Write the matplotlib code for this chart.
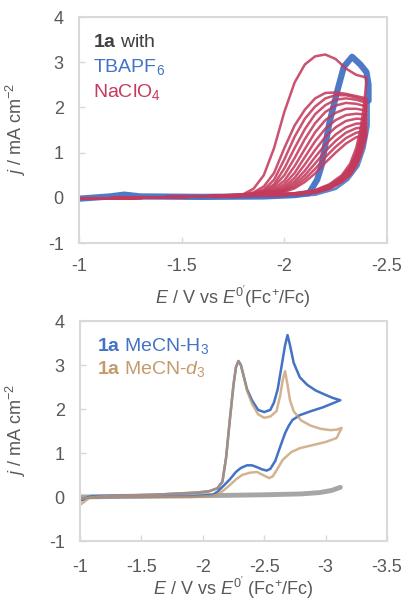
import matplotlib
matplotlib.use('Agg')
import matplotlib.pyplot as plt

plt.rcParams['font.family'] = ['Liberation Sans', 'DejaVu Sans']
plt.rcParams['mathtext.fontset'] = 'custom'
plt.rcParams['mathtext.rm'] = 'Liberation Sans'
plt.rcParams['mathtext.it'] = 'Liberation Sans:italic'
plt.rcParams['mathtext.bf'] = 'Liberation Sans:bold'

# ---- top panel: 1a with TBAPF6 / NaClO4 (multi-cycle CV) ----
red_fwd_E = [-1.0, -1.3, -1.6, -1.8, -1.85, -1.9, -1.95, -2.0, -2.05, -2.1,
             -2.15, -2.2, -2.25, -2.3, -2.35, -2.4]
red_fwd_j = [
    [-0.02, 0.0, 0.03, 0.08, 0.2, 0.5, 1.1, 1.9, 2.55, 2.95, 3.13, 3.17, 3.07, 2.86, 2.72, 2.66],
    [-0.02, 0.0, 0.03, 0.07, 0.12, 0.25, 0.55, 1.1, 1.6, 1.95, 2.2, 2.32, 2.33, 2.3, 2.25, 2.2],
    [-0.02, 0.0, 0.03, 0.07, 0.1, 0.18, 0.4, 0.85, 1.35, 1.75, 2.02, 2.2, 2.27, 2.27, 2.22, 2.15],
    [-0.02, 0.0, 0.03, 0.06, 0.09, 0.15, 0.3, 0.65, 1.1, 1.52, 1.85, 2.05, 2.17, 2.2, 2.17, 2.1],
    [-0.02, 0.0, 0.03, 0.06, 0.08, 0.12, 0.25, 0.5, 0.88, 1.3, 1.65, 1.9, 2.04, 2.1, 2.08, 2.02],
    [-0.02, 0.0, 0.03, 0.06, 0.08, 0.11, 0.2, 0.38, 0.7, 1.08, 1.45, 1.72, 1.88, 1.97, 1.97, 1.93],
    [-0.02, 0.0, 0.03, 0.05, 0.07, 0.1, 0.16, 0.3, 0.55, 0.9, 1.25, 1.53, 1.72, 1.83, 1.86, 1.84],
    [-0.02, 0.0, 0.03, 0.05, 0.07, 0.09, 0.14, 0.24, 0.44, 0.74, 1.06, 1.35, 1.56, 1.7, 1.75, 1.74],
    [-0.02, 0.0, 0.03, 0.05, 0.06, 0.08, 0.12, 0.2, 0.36, 0.6, 0.9, 1.18, 1.4, 1.56, 1.64, 1.65],
    [-0.02, 0.0, 0.03, 0.05, 0.06, 0.08, 0.11, 0.17, 0.3, 0.5, 0.76, 1.03, 1.26, 1.44, 1.54, 1.56],
    [-0.02, 0.0, 0.03, 0.05, 0.06, 0.07, 0.1, 0.15, 0.25, 0.42, 0.64, 0.9, 1.13, 1.32, 1.44, 1.48],
    [-0.02, 0.0, 0.03, 0.05, 0.06, 0.07, 0.09, 0.13, 0.21, 0.35, 0.54, 0.78, 1.0, 1.2, 1.34, 1.4],
]
red_rev_E = [-2.4, -2.395, -2.385, -2.37, -2.35, -2.32, -2.28, -2.22, -2.15,
             -2.05, -1.9, -1.6, -1.3, -1.0]
red_rev_j = [
    [2.66, 2.35, 1.95, 1.5, 1.1, 0.75, 0.5, 0.3, 0.17, 0.1, 0.06, 0.03, 0.0, -0.02],
    [2.2, 1.98, 1.68, 1.32, 0.98, 0.68, 0.46, 0.28, 0.16, 0.09, 0.06, 0.03, 0.0, -0.02],
    [2.15, 1.94, 1.64, 1.3, 0.96, 0.67, 0.45, 0.27, 0.15, 0.09, 0.06, 0.03, 0.0, -0.02],
    [2.1, 1.9, 1.61, 1.27, 0.94, 0.66, 0.44, 0.26, 0.15, 0.09, 0.05, 0.03, 0.0, -0.02],
    [2.02, 1.83, 1.56, 1.23, 0.91, 0.64, 0.43, 0.25, 0.14, 0.08, 0.05, 0.03, 0.0, -0.02],
    [1.93, 1.76, 1.5, 1.19, 0.88, 0.62, 0.42, 0.25, 0.14, 0.08, 0.05, 0.03, 0.0, -0.02],
    [1.84, 1.68, 1.44, 1.14, 0.85, 0.6, 0.41, 0.24, 0.13, 0.08, 0.05, 0.03, 0.0, -0.02],
    [1.74, 1.6, 1.37, 1.09, 0.82, 0.58, 0.4, 0.23, 0.13, 0.08, 0.05, 0.03, 0.0, -0.02],
    [1.65, 1.52, 1.31, 1.05, 0.79, 0.56, 0.38, 0.22, 0.12, 0.07, 0.05, 0.03, 0.0, -0.02],
    [1.56, 1.44, 1.25, 1.0, 0.76, 0.54, 0.37, 0.21, 0.12, 0.07, 0.05, 0.03, 0.0, -0.02],
    [1.48, 1.37, 1.19, 0.96, 0.73, 0.52, 0.36, 0.21, 0.12, 0.07, 0.05, 0.03, 0.0, -0.02],
    [1.4, 1.3, 1.13, 0.92, 0.7, 0.5, 0.35, 0.2, 0.11, 0.07, 0.05, 0.03, 0.0, -0.02],
]
# TBAPF6: forward scan (thick band) and return scan (mostly hidden under red)
tba_fwd_E = [-1.0, -1.15, -1.22, -1.3, -1.6, -1.9, -2.05, -2.12, -2.16, -2.18, -2.22,
             -2.26, -2.29, -2.33, -2.37, -2.40, -2.41, -2.41]
tba_fwd_j = [-0.02, 0.03, 0.07, 0.03, 0.02, 0.03, 0.06, 0.1, 0.4, 0.69, 1.67,
             2.4, 2.9, 3.12, 2.95, 2.78, 2.5, 2.15]
tba_rev_E = [-2.41, -2.41, -2.39, -2.36, -2.31, -2.25, -2.15, -2.0, -1.5, -1.0]
tba_rev_j = [2.15, 1.6, 1.1, 0.7, 0.4, 0.2, 0.07, 0.03, 0.01, -0.02]

# ---- bottom panel: MeCN-H3 vs MeCN-d3 ----
h3_E = [-1.0, -1.03, -1.07, -1.1, -1.3, -1.6, -1.8, -1.95, -2.05, -2.12, -2.16,
        -2.19, -2.22, -2.25, -2.27, -2.29, -2.31, -2.33, -2.36, -2.40, -2.45,
        -2.50, -2.55, -2.58, -2.61, -2.64, -2.67, -2.69, -2.71, -2.74, -2.79,
        -2.85, -2.92, -3.0, -3.06, -3.12,
        -3.05, -2.98, -2.88, -2.79, -2.73, -2.70, -2.67, -2.63, -2.59, -2.55,
        -2.52, -2.48, -2.44, -2.40, -2.36, -2.31, -2.27, -2.22, -2.16, -2.12,
        -2.08, -1.9, -1.5, -1.2, -1.05, -1.0]
h3_j = [-0.08, -0.06, 0.0, 0.02, 0.03, 0.05, 0.08, 0.1, 0.13, 0.2, 0.35,
        0.9, 1.75, 2.55, 2.95, 3.09, 3.0, 2.78, 2.45, 2.2, 1.98,
        1.93, 1.98, 2.15, 2.45, 2.95, 3.45, 3.68, 3.45, 3.05, 2.72,
        2.55, 2.42, 2.32, 2.25, 2.2,
        2.12, 2.04, 1.95, 1.86, 1.75, 1.62, 1.45, 1.14, 0.82, 0.64,
        0.6, 0.63, 0.68, 0.72, 0.72, 0.66, 0.57, 0.4, 0.23, 0.12,
        0.05, 0.01, 0.0, 0.0, -0.02, -0.05]
d3_E = [-1.0, -1.03, -1.07, -1.1, -1.3, -1.6, -1.8, -1.95, -2.05, -2.12, -2.16,
        -2.19, -2.22, -2.25, -2.27, -2.29, -2.31, -2.33, -2.36, -2.40, -2.45,
        -2.50, -2.55, -2.60, -2.63, -2.65, -2.67, -2.69, -2.71, -2.74, -2.80,
        -2.88, -2.96, -3.04, -3.09, -3.13,
        -3.09, -3.0, -2.88, -2.79, -2.72, -2.68, -2.65, -2.61, -2.57, -2.54,
        -2.49, -2.44, -2.38, -2.32, -2.27, -2.22, -2.16, -2.11, -2.05, -1.9,
        -1.5, -1.2, -1.05, -1.0]
d3_j = [-0.18, -0.12, -0.03, 0.0, 0.03, 0.05, 0.08, 0.1, 0.13, 0.2, 0.35,
        0.9, 1.75, 2.55, 2.95, 3.09, 3.0, 2.78, 2.42, 2.12, 1.88,
        1.8, 1.83, 1.95, 2.3, 2.65, 2.86, 2.55, 2.2, 1.95, 1.74,
        1.62, 1.55, 1.52, 1.53, 1.57,
        1.34, 1.25, 1.17, 1.11, 1.02, 0.92, 0.84, 0.65, 0.47, 0.43,
        0.5, 0.57, 0.55, 0.5, 0.4, 0.27, 0.13, 0.05, 0.02, 0.0,
        0.0, 0.0, -0.02, -0.05]
blank_E = [-1.0, -1.5, -2.0, -2.5, -2.8, -2.95, -3.05, -3.12]
blank_j = [0.0, 0.02, 0.03, 0.05, 0.07, 0.1, 0.15, 0.22]

grey = '#595959'
blue = '#4472C4'
red = '#C43A5C'
tan = '#C49A6C'

fig = plt.figure(figsize=(4.06, 6.03), dpi=100)
ax1 = fig.add_axes([79/406, 1 - 243/603, 308/406, 226/603])
ax2 = fig.add_axes([80/406, 1 - 541/603, 307/406, 220/603])

# blue underneath, red cycles drawn over it
ax1.plot(tba_rev_E, tba_rev_j, color=blue, lw=2, alpha=0.85, solid_joinstyle='round')
ax1.plot(tba_fwd_E, tba_fwd_j, color=blue, lw=4.5, alpha=0.95, solid_joinstyle='round',
         solid_capstyle='round')
for fj, rj in zip(red_fwd_j, red_rev_j):
    ax1.plot(red_fwd_E + red_rev_E, fj + rj, color=red, lw=1.8, alpha=0.88,
             solid_joinstyle='round')
ax1.set_xlim(-1, -2.5)
ax1.set_xticks([-1, -1.5, -2, -2.5])
ax1.set_xticklabels(['-1', '-1.5', '-2', '-2.5'])

ax2.plot(blank_E, blank_j, color='#A6A6A6', lw=3.5, solid_capstyle='round')
ax2.plot(h3_E, h3_j, color=blue, lw=1.8, solid_joinstyle='round')
ax2.plot(d3_E, d3_j, color=tan, lw=1.8, alpha=0.75, solid_joinstyle='round')
ax2.set_xlim(-1, -3.5)
ax2.set_xticks([-1, -1.5, -2, -2.5, -3, -3.5])
ax2.set_xticklabels(['-1', '-1.5', '-2', '-2.5', '-3', '-3.5'])

for ax in (ax1, ax2):
    ax.set_ylim(-1, 4)
    ax.set_yticks([-1, 0, 1, 2, 3, 4])
    ax.set_yticklabels(['-1', '0', '1', '2', '3', '4'])
    for s in ax.spines.values():
        s.set_color('#D9D9D9')
        s.set_linewidth(1.5)
    ax.tick_params(direction='in', length=4, width=1, color='#D9D9D9',
                   labelsize=13, labelcolor=grey, pad=11)
    ax.set_ylabel(r'$j$ / mA cm$^{-2}$', fontsize=13, color=grey)

ax1.yaxis.set_label_coords(-0.166, 0.5)
ax2.yaxis.set_label_coords(-0.169, 0.5)
ax2.tick_params(axis='x', pad=13)

ax1.set_xlabel(r"$E$ / V vs $E^{0'}$(Fc$^{+}$/Fc)", fontsize=13, color=grey, labelpad=6)
ax2.set_xlabel(r"$E$ / V vs $E^{0'}$ (Fc$^{+}$/Fc)", fontsize=13, color=grey, labelpad=-1)

fig.text(93/406, 1 - 47/603, r'$\mathbf{1a}$ with', fontsize=14, color='#404040')
fig.text(93/406, 1 - 72/603, r'TBAPF$_6$', fontsize=14, color=blue)
fig.text(93/406, 1 - 97/603, r'NaClO$_4$', fontsize=14, color=red)
fig.text(97/406, 1 - 351/603, r'$\mathbf{1a}$ MeCN-H$_3$', fontsize=14, color=blue)
fig.text(97/406, 1 - 374/603, r'$\mathbf{1a}$ MeCN-$\mathit{d_3}$', fontsize=14, color=tan)

fig.savefig('out.png', dpi=100)
